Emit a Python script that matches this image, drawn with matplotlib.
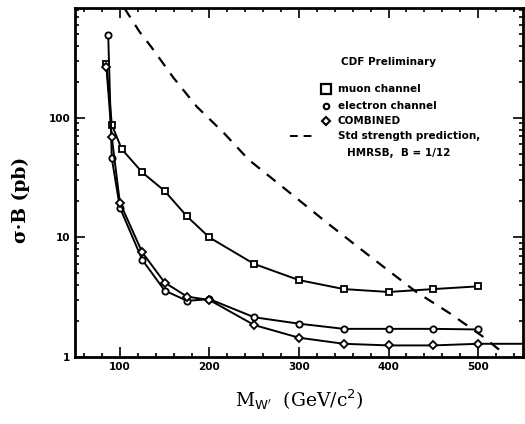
import numpy as np
import matplotlib
matplotlib.use('Agg')
from matplotlib import pyplot as plt
from matplotlib.ticker import MultipleLocator, LogLocator, NullFormatter, FixedLocator, FixedFormatter

# values
mu_x = [85, 91, 102, 125, 150, 175, 200, 250, 300, 350, 400, 450, 500]
mu_y = [280, 88, 55, 35, 24.5, 15, 10, 6.0, 4.4, 3.7, 3.5, 3.7, 3.9]

el_x = [87, 91, 100, 125, 150, 175, 200, 250, 300, 350, 400, 450, 500]
el_y = [490, 46, 17.8, 6.5, 3.6, 2.95, 3.05, 2.15, 1.9, 1.72, 1.72, 1.72, 1.70]

co_x = [85, 91, 100, 125, 150, 175, 200, 250, 300, 350, 400, 450, 500, 550]
co_y = [265, 69, 19.6, 7.5, 4.2, 3.2, 3.0, 1.85, 1.45, 1.29, 1.25, 1.25, 1.29, 1.29]

th_x = [105, 122, 135, 160, 186, 216, 244, 297, 330, 363, 396, 431, 468, 506, 528]
th_y = [830, 525, 393, 216, 124, 75, 44.6, 21.4, 13.5, 8.65, 5.56, 3.5, 2.33, 1.47, 1.08]

xticks = [100, 200, 300, 400, 500]
xlabels = ['100', '200', '300', '400', '500']

fig = plt.figure(figsize=(5.25, 4.24), dpi=100)
ax = fig.add_axes([0.143, 0.158, 0.853, 0.823])

ax.plot(mu_x, mu_y, '-', color='black', lw=1.4, marker='s', ms=4.8, mfc='white', mec='black', mew=1.3)
ax.plot(el_x, el_y, '-', color='black', lw=1.4, marker='o', ms=4.5, mfc='white', mec='black', mew=1.3)
ax.plot(co_x, co_y, '-', color='black', lw=1.4, marker='D', ms=4.5, mfc='white', mec='black', mew=1.3,
        markevery=list(range(len(co_x) - 1)))
ax.plot(th_x, th_y, '--', color='black', lw=1.6, dashes=(5, 4))

ax.set_yscale('log')
ax.set_xlim(50, 550)
ax.set_ylim(1, 830)

ax.xaxis.set_major_locator(FixedLocator(xticks))
ax.xaxis.set_major_formatter(FixedFormatter(xlabels))
ax.xaxis.set_minor_locator(MultipleLocator(20))
ax.yaxis.set_minor_locator(LogLocator(base=10, subs=np.arange(2, 10)))
ax.yaxis.set_minor_formatter(NullFormatter())
ax.set_yticks([1, 10, 100])
ax.set_yticklabels(['1', '10', '100'])

ax.tick_params(which='both', direction='in', top=True, right=True, width=1.2)
ax.tick_params(which='major', length=7, labelsize=7.5)
ax.tick_params(which='minor', length=3)
for lab in ax.get_xticklabels() + ax.get_yticklabels():
    lab.set_fontweight('bold')
for s in ax.spines.values():
    s.set_linewidth(2)

ax.set_ylabel('σ·B (pb)', fontsize=13.5, family='DejaVu Serif', fontweight='bold')
ax.yaxis.set_label_coords(-0.1, 0.45)
ax.set_xlabel(r"M$_{\mathrm{W'}}$  (GeV/c$^{2}$)", fontsize=13.5, family='DejaVu Serif', labelpad=11)

# hand-drawn style legend block
fs = 7.5
ax.text(400, 294, 'CDF Preliminary', fontsize=fs, fontweight='bold', ha='center', va='center')
ax.plot([330], [175], marker='s', ms=6.5, mfc='white', mec='black', mew=1.6)
ax.text(343, 175, 'muon channel', fontsize=fs, fontweight='bold', va='center')
ax.plot([330], [126], marker='o', ms=4, mfc='white', mec='black', mew=1.5)
ax.text(343, 126, 'electron channel', fontsize=fs, fontweight='bold', va='center')
ax.plot([330], [94], marker='D', ms=4.5, mfc='white', mec='black', mew=1.5)
ax.text(343, 94, 'COMBINED', fontsize=fs, fontweight='bold', va='center')
ax.plot([290, 316], [71, 71], '--', color='black', lw=1.4, dashes=(4, 3))
ax.text(343, 71, 'Std strength prediction,', fontsize=fs, fontweight='bold', va='center')
ax.text(354, 51, 'HMRSB,  B = 1/12', fontsize=fs, fontweight='bold', va='center')

fig.savefig('out.png', dpi=100)
